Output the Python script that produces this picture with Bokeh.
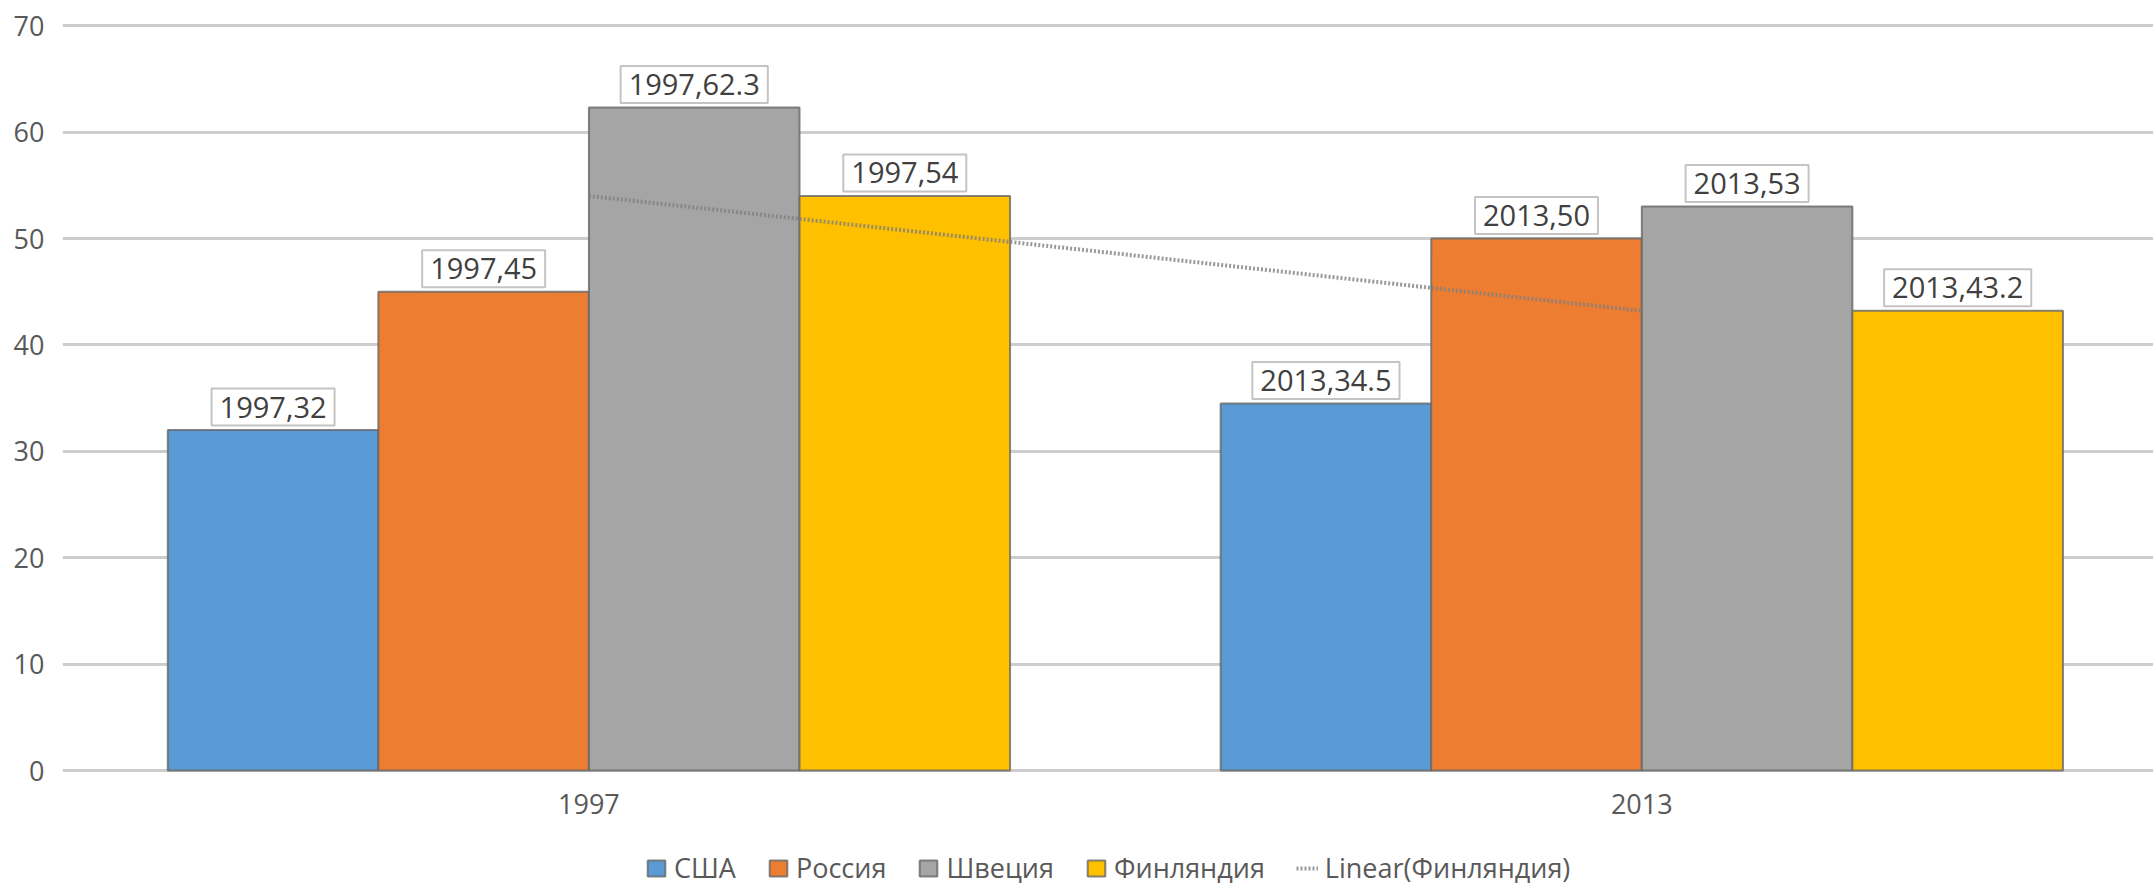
import numpy as np
from bokeh.plotting import figure
from bokeh.models import ColumnDataSource, Legend, LegendItem, FixedTicker, Range1d
from bokeh.core.properties import value
from bokeh.embed import file_html
from bokeh.resources import INLINE

years = ["1997", "2013"]
countries = ["США", "Россия", "Швеция", "Финляндия"]
usa = [32, 34.5]
russia = [45, 50]
sweden = [62.3, 53]
finland = [54, 43.2]
series = [usa, russia, sweden, finland]
colors = ["#5b9bd5", "#ed7d31", "#a5a5a5", "#ffc000"]
y_ticks = [0, 10, 20, 30, 40, 50, 60, 70]
trend_label = "Linear(Финляндия)"

FONT = "Open Sans"
cat_x = np.arange(1, len(years) + 1)
bar_w = 0.2
offsets = [(-1.5 + i) * bar_w for i in range(len(countries))]

# frame fills the figure down to its bottom edge; value 0 sits at y=770 px
p = figure(width=2153, height=886, output_backend="svg", toolbar_location=None,
           x_range=Range1d(0.5, 0.5 + 1.986), y_range=Range1d(-10.9, 70.3),
           min_border_left=62, min_border_right=0, min_border_top=22, min_border_bottom=0)
p.outline_line_color = None
p.background_fill_color = "white"
p.border_fill_color = "white"

def fmt(v):
    return str(int(v)) if float(v).is_integer() else str(v)

bar_renderers = []
for name, vals, col, off in zip(countries, series, colors, offsets):
    src = ColumnDataSource(dict(x=cat_x + off, top=vals))
    r = p.vbar(x="x", top="top", bottom=0, width=bar_w, source=src, fill_color=col,
               line_color="#666666", line_alpha=0.8, line_width=2)
    bar_renderers.append(r)

# linear trend of Finland
coef = np.polyfit(cat_x, finland, 1)
tr = p.line(x=cat_x, y=np.polyval(coef, cat_x), line_color="#808080", line_width=4,
            line_dash="2 2", line_alpha=0.8)

for name, vals, off in zip(countries, series, offsets):
    src = ColumnDataSource(dict(x=cat_x + off, y=vals,
                                lab=[f"{y},{fmt(v)}" for y, v in zip(years, vals)]))
    p.text(x="x", y="y", text="lab", source=src, text_font=value(FONT),
           text_font_size="29px", text_color="#404040", text_align="center",
           text_baseline="middle", y_offset=-23,
           background_fill_color="white", border_line_color="#c4c4c4",
           border_line_width=2, padding=dict(left=8, right=8, top=8, bottom=8))

p.yaxis.ticker = FixedTicker(ticks=y_ticks)
p.yaxis.axis_line_color = None
p.yaxis.major_tick_line_color = None
p.yaxis.minor_tick_line_color = None
p.yaxis.major_label_standoff = 12
p.yaxis.major_label_text_font = FONT
p.yaxis.major_label_text_font_size = "27px"
p.yaxis.major_label_text_color = "#595959"

p.xaxis.ticker = FixedTicker(ticks=list(cat_x))
p.xaxis.fixed_location = 0
p.xaxis.major_label_overrides = {int(x): y for x, y in zip(cat_x, years)}
p.xaxis.axis_line_color = None
p.xaxis.major_tick_line_color = None
p.xaxis.minor_tick_line_color = None
p.xaxis.major_label_standoff = 17
p.xaxis.major_label_text_font = FONT
p.xaxis.major_label_text_font_size = "27px"
p.xaxis.major_label_text_color = "#595959"

p.xgrid.grid_line_color = None
p.ygrid.grid_line_color = "#cdcdcd"
p.ygrid.grid_line_width = 3

items = [LegendItem(label=n, renderers=[r]) for n, r in zip(countries, bar_renderers)]
items.append(LegendItem(label=trend_label, renderers=[tr]))
legend = Legend(items=items, orientation="horizontal", location=(583, 0),
                label_text_font=FONT, label_text_font_size="27px", label_text_color="#595959",
                glyph_width=22, glyph_height=20, label_standoff=7, spacing=31,
                padding=0, margin=0, border_line_color=None, background_fill_alpha=0)
p.add_layout(legend, "center")

open("out.html", "w").write(file_html(p, INLINE))
